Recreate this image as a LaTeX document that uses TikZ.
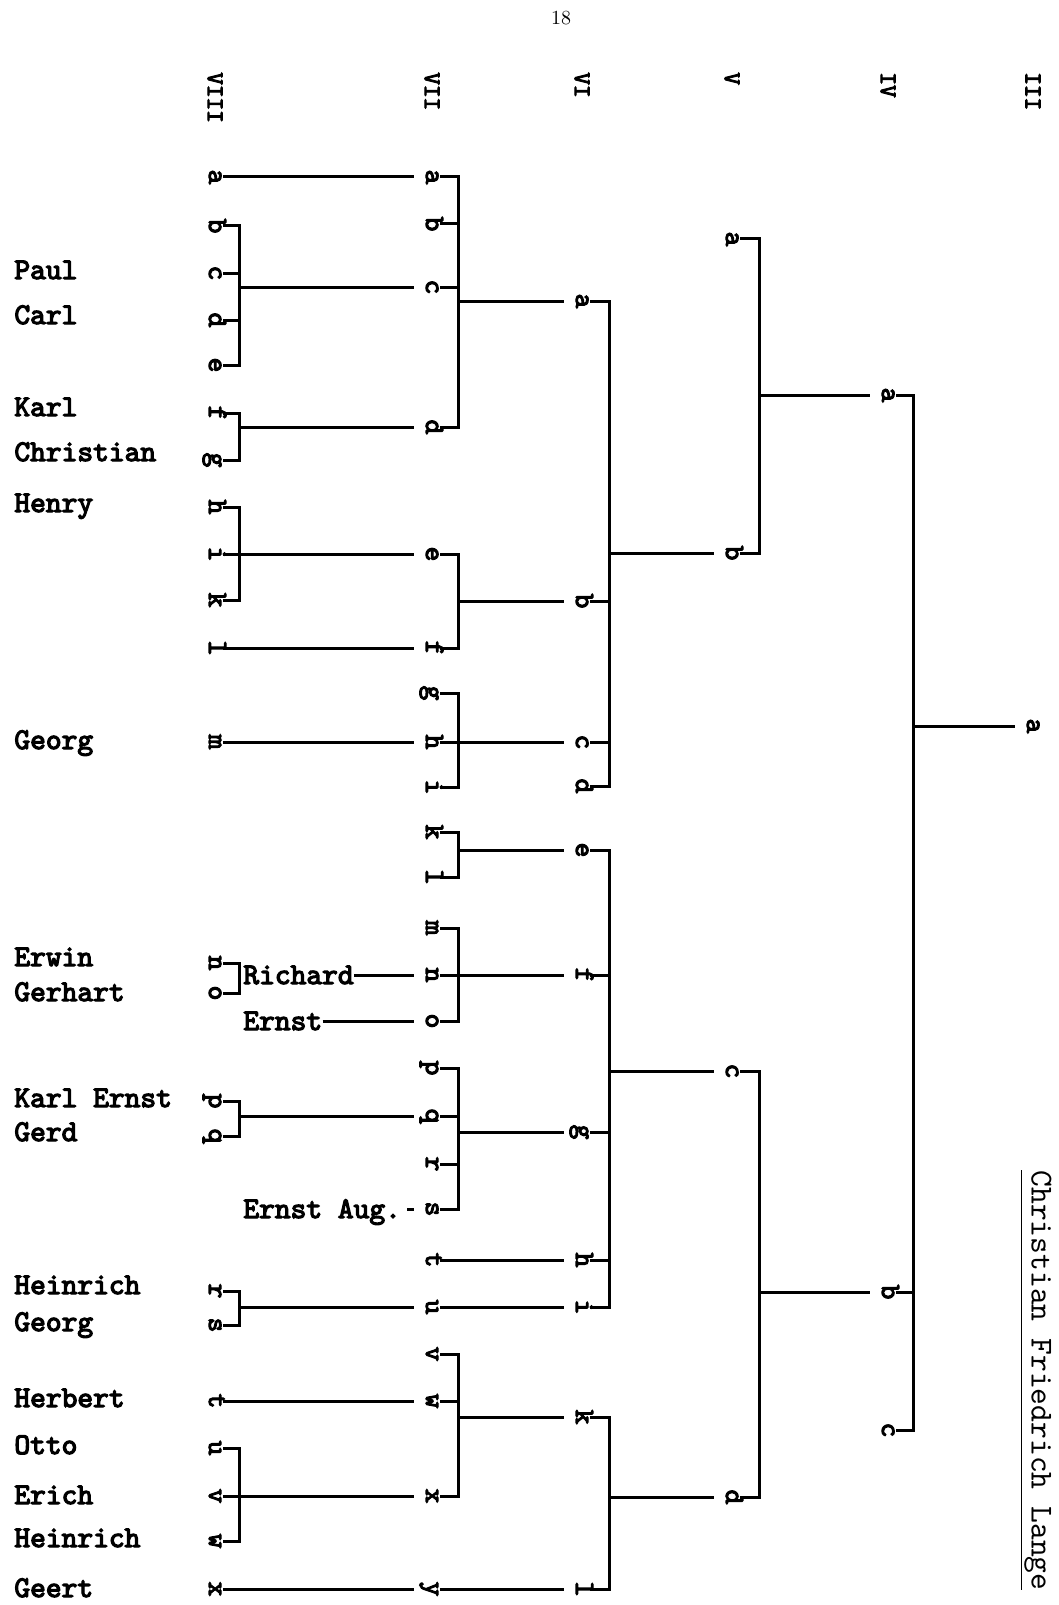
\documentclass[tikz,border=0pt]{standalone}
\usepackage{fontspec}
\usepackage{tikz}
\newfontfamily\typew{lmmono10-regular}[Extension=.otf,FakeBold=4]
\newfontfamily\typel{lmmono10-regular}[Extension=.otf]

\tikzset{
  letr/.style={rotate=-90,font=\typew\fontsize{14}{14}\selectfont,
    text height=6pt,text depth=0pt,inner xsep=0pt,inner ysep=1pt},
  person/.style={anchor=west,inner sep=0pt,text height=9pt,text depth=0pt,
    font=\typew\fontsize{15}{15}\selectfont},
  genno/.style={rotate=-90,anchor=west,inner sep=0pt,
    font=\typew\fontsize{12}{12}\selectfont},
  tie/.style={line width=1.5pt},
  link/.style={line width=1.5pt,shorten >=5pt},
}

\begin{document}
\begin{tikzpicture}[x=0.5pt,y=-0.5pt]
\useasboundingbox (0,0) rectangle (1059,1605);
% page number and generations
\node[font=\rmfamily\fontsize{10}{10}\selectfont] (page) at (561,18) {18};
\foreach \g/\x in {VIII/215,VII/432,VI/582,V/732,IV/888,III/1033}
  \node[genno] (gen\g) at (\x,72) {\g};

% letters of each generation
\foreach \l/\y in {a/177,b/226,c/273,d/320,e/365,f/413,g/460,h/507,i/554,k/600,l/648,
    m/742,n/963,o/993,p/1101,q/1136,r/1291,s/1325,t/1401,u/1448,v/1496,w/1541,x/1589}
  \node[letr] (c8\l) at (215,\y) {\l};
\foreach \l/\y in {a/177,b/224,c/287,d/427,e/554,f/648,g/693,h/742,i/787,k/832,l/877,
    m/928,n/975,o/1021,p/1068,q/1116,r/1164,s/1209,t/1260,u/1307,v/1354,w/1401,x/1496,y/1589}
  \node[letr] (c7\l) at (432,\y) {\l};
\foreach \l/\y in {a/301,b/601,c/742,d/786,e/850,f/975,g/1132,h/1260,i/1307,k/1417,l/1589}
  \node[letr] (c6\l) at (582,\y) {\l};
\foreach \l/\y in {a/239,b/553,c/1071,d/1497}
  \node[letr] (c5\l) at (732,\y) {\l};
\foreach \l/\y in {a/395,b/1292,c/1430}
  \node[letr] (c4\l) at (888,\y) {\l};
\node[letr] (c3a) at (1033,726) {a};

% names
\foreach \n/\y [count=\i] in {Paul/270,Carl/315,Karl/407,Christian/452,Henry/503,Georg/740,
    Erwin/957,Gerhart/992,Karl Ernst/1098,Gerd/1132,Heinrich/1285,Georg/1322,
    Herbert/1398,Otto/1445,Erich/1495,Heinrich/1538,Geert/1588}
  \node[person] (nm\i) at (14,\y) {\n};
\node[person] (richard) at (243,975) {Richard};
\node[person] (ernst) at (243,1021) {Ernst};
\node[person] (ernstaug) at (243,1209) {Ernst Aug.};
\node[rotate=-90,anchor=west,inner sep=0pt,font=\typel\fontsize{16}{16}\selectfont]
  (lange) at (1036,1170) {\underline{Christian Friedrich Lange}};

% bars of the brackets
\coordinate (k8) at (239,0);
\coordinate (k7) at (458,0);
\coordinate (k6) at (609,0);
\coordinate (k5) at (759,0);
\coordinate (k4) at (913,0);

\foreach \c/\t/\b in {8/b/e,8/f/g,8/h/k,8/n/o,8/p/q,8/r/s,8/u/w,
    7/a/d,7/e/f,7/g/i,7/k/l,7/m/o,7/p/s,7/v/x,6/a/d,6/e/i,6/k/l,5/a/b,5/c/d,4/a/c}
  \draw[tie] (c\c\t.north) -| (k\c |- c\c\b) -- (c\c\b.north);
\foreach \c/\l in {8/c,8/d,7/b,7/c,7/q,7/r,7/w,6/b,6/c,6/f,6/g,6/h,4/b}
  \draw[tie] (c\c\l.north) -- (k\c |- c\c\l);

% from a bar to the next generation
\foreach \c/\d in {8/7c,8/7d,8/7q,8/7u,7/6a,7/6b,7/6e,7/6g,7/6k,6/5b,6/5c,6/5d,5/4a,5/4b,4/3a}
  \draw[link] (k\c |- c\d) -- (c\d.south);

% straight lines from letter to letter
\foreach \s/\d in {8a/7a,8i/7e,8l/7f,8m/7h,8t/7w,8v/7x,8x/7y,7h/6c,7n/6f,7t/6h,7u/6i,7y/6l}
  \draw[link] (c\s.north) -- (c\d.south);
\draw[link] (richard.east) -- (c7n.south);
\draw[link] (ernst.east) -- (c7o.south);
\draw[link] ([xshift=3pt]ernstaug.east) -- (c7s.south);
\end{tikzpicture}
\end{document}
